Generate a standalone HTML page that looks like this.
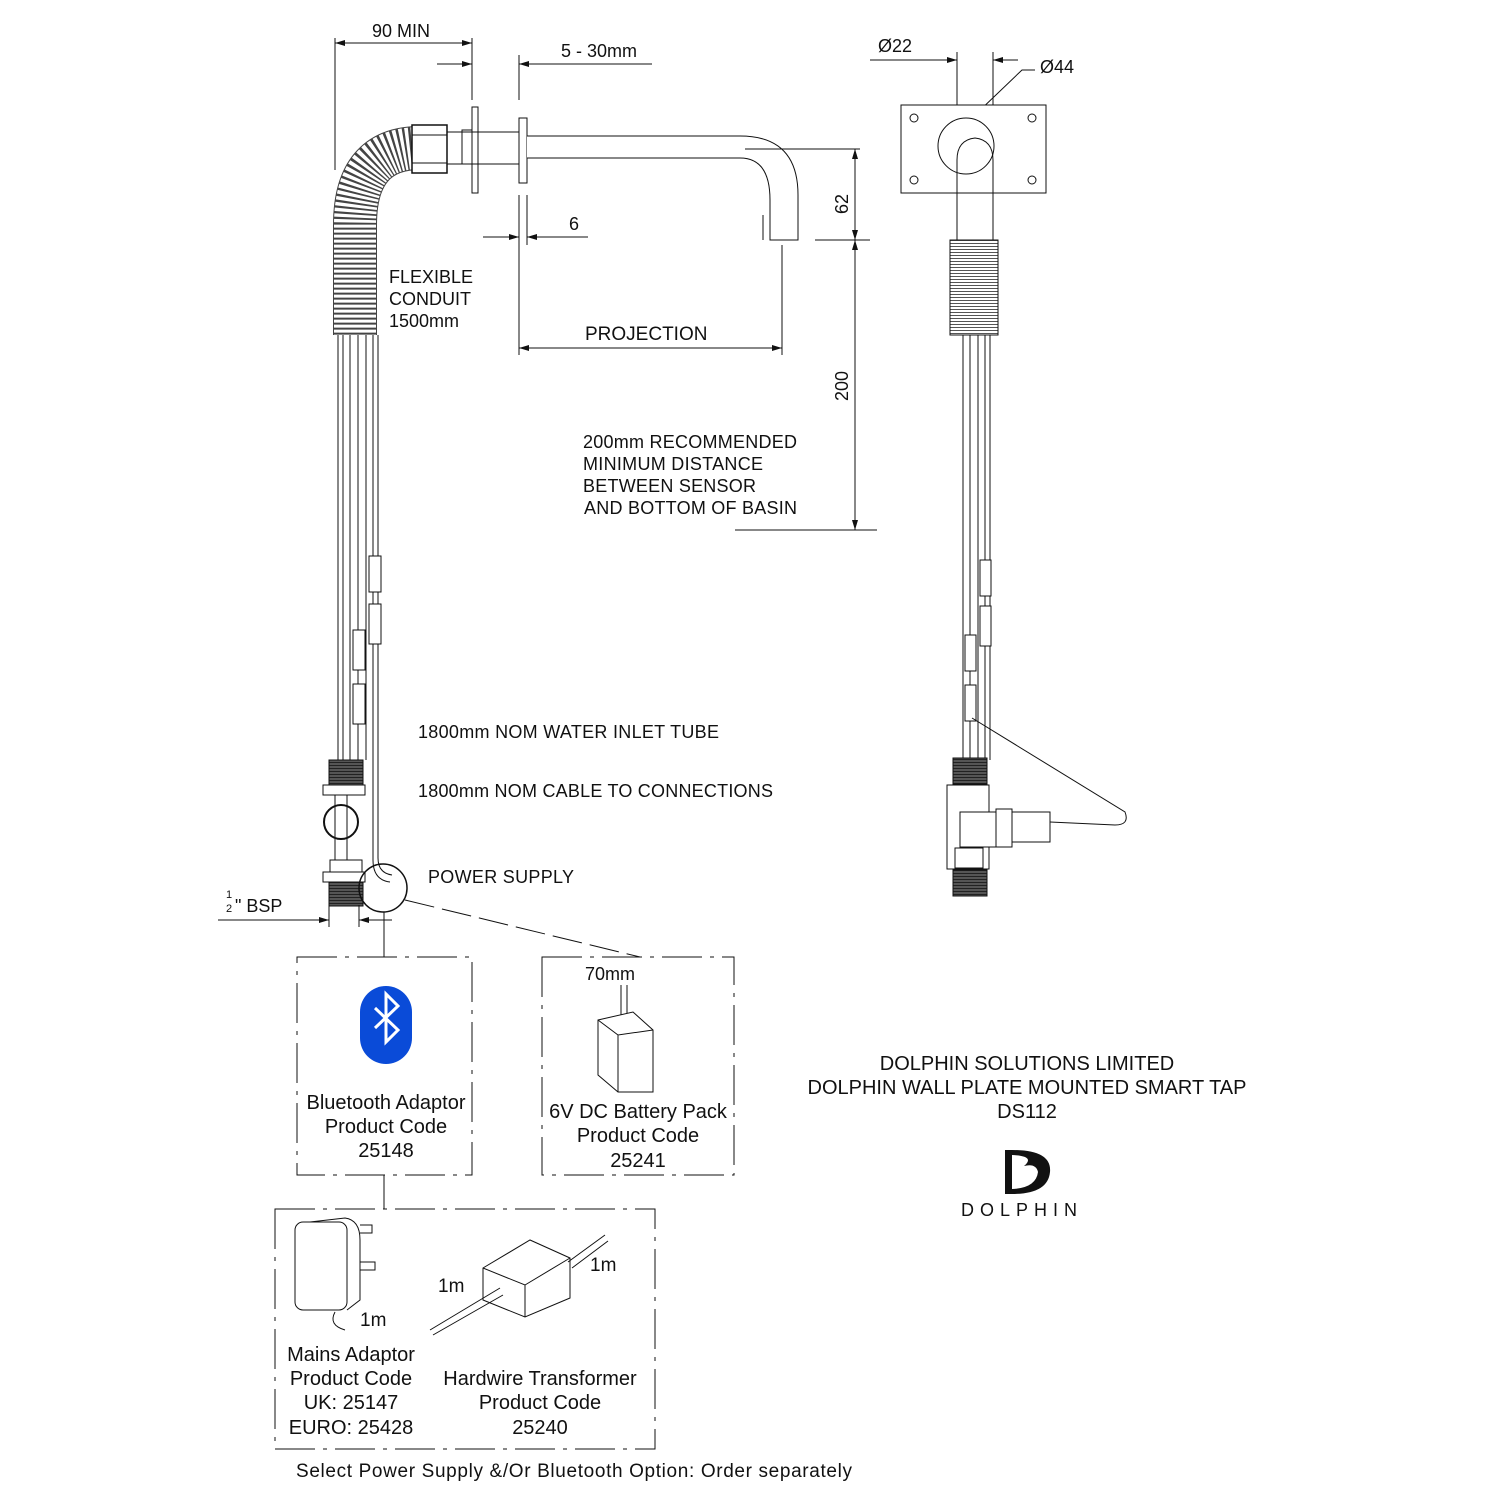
<!DOCTYPE html>
<html><head><meta charset="utf-8"><style>
html,body{margin:0;padding:0;background:#fff;}
svg{display:block;}
text{font-family:"Liberation Sans",Arial,sans-serif;fill:#111;}
</style></head><body>
<svg width="1500" height="1500" viewBox="0 0 1500 1500" xmlns="http://www.w3.org/2000/svg">
<defs>
<marker id="ar" viewBox="0 0 10 6" refX="10" refY="3" markerWidth="14" markerHeight="6" orient="auto-start-reverse" markerUnits="userSpaceOnUse"><path d="M0,0 L10,3 L0,6 Z" fill="#111"/></marker>
<pattern id="thr" width="4" height="3" patternUnits="userSpaceOnUse"><rect width="4" height="3" fill="#555"/><rect width="4" height="1" fill="#222"/></pattern>
<pattern id="thr2" width="4" height="3" patternUnits="userSpaceOnUse"><rect width="4" height="3" fill="#fff"/><rect width="4" height="1" fill="#555"/></pattern>
</defs>
<g stroke="#111" fill="none" stroke-width="1">
<!-- 90 MIN -->
<line x1="335" y1="38" x2="335" y2="170"/>
<line x1="472" y1="38" x2="472" y2="100"/>
<line x1="335" y1="43" x2="472" y2="43" marker-start="url(#ar)" marker-end="url(#ar)"/>
<!-- 5-30 -->
<line x1="519" y1="55" x2="519" y2="100"/>
<line x1="437" y1="64" x2="472" y2="64" marker-end="url(#ar)"/>
<line x1="519" y1="64" x2="652" y2="64"/>
<line x1="535" y1="64" x2="519" y2="64" marker-end="url(#ar)"/>
<!-- plate & flange -->
<rect x="472" y="107" width="6" height="86" fill="#fff"/>
<rect x="519" y="118" width="8" height="65" fill="#fff"/>
<rect x="462" y="130" width="10" height="34" fill="#fff"/>
<line x1="445" y1="132" x2="519" y2="132"/><line x1="445" y1="164" x2="519" y2="164"/>
<!-- spout -->
<path d="M527,136 L740,136 Q798,136 798,195 L798,240 L770,240 L770,200 Q770,158 740,158 L527,158" fill="#fff"/>
<line x1="763" y1="215" x2="763" y2="240"/>
<line x1="745" y1="149" x2="860" y2="149"/>
<!-- 62 / 200 -->
<line x1="855" y1="149" x2="855" y2="240" marker-start="url(#ar)" marker-end="url(#ar)"/>
<line x1="815" y1="240" x2="870" y2="240"/>
<line x1="855" y1="240" x2="855" y2="530" marker-start="url(#ar)" marker-end="url(#ar)"/>
<line x1="735" y1="530" x2="877" y2="530"/>
<!-- 6 -->
<line x1="519" y1="195" x2="519" y2="355"/>
<line x1="527" y1="195" x2="527" y2="245"/>
<line x1="483" y1="237" x2="519" y2="237" marker-end="url(#ar)"/>
<line x1="588" y1="237" x2="527" y2="237" marker-end="url(#ar)"/>
<!-- projection -->
<line x1="782" y1="245" x2="782" y2="355"/>
<line x1="519" y1="348" x2="782" y2="348" marker-start="url(#ar)" marker-end="url(#ar)"/>
<!-- conduit -->
<path d="M420,148 Q355,148 355,225 L355,335" stroke="#444" stroke-width="44"/>
<path d="M420,148 Q355,148 355,225 L355,335" stroke="#fff" stroke-width="42" stroke-dasharray="3 2"/>
<rect x="412" y="125" width="35" height="48" fill="#fff" stroke-width="1.5"/>
<line x1="412" y1="135" x2="447" y2="135"/><line x1="412" y1="163" x2="447" y2="163"/>
<!-- tubes -->
<path d="M338,335 L338,760 M343,335 L343,760 M350,335 L350,760 M358,335 L358,760 M366,335 L366,760"/>
<path d="M373,335 L373,860 Q373,880 390,882 M378,335 L378,858 Q378,873 392,875"/>
<rect x="369" y="556" width="12" height="36" fill="#fff"/><rect x="369" y="604" width="12" height="40" fill="#fff"/>
<rect x="353" y="630" width="12" height="40" fill="#fff"/><rect x="353" y="684" width="12" height="40" fill="#fff"/>
<rect x="329" y="760" width="34" height="25" fill="url(#thr)"/>
<rect x="323" y="785" width="42" height="10" fill="#fff"/>
<circle cx="341" cy="822" r="17" stroke-width="2"/>
<path d="M335,795 L335,860 M347,795 L347,860"/>
<rect x="330" y="860" width="32" height="12" fill="#fff"/>
<rect x="323" y="872" width="42" height="10" fill="#fff"/>
<rect x="329" y="882" width="34" height="24" fill="url(#thr)"/>
<circle cx="383" cy="888" r="24" stroke-width="1.5"/>
<!-- BSP dim -->
<line x1="329" y1="905" x2="329" y2="927"/><line x1="359" y1="905" x2="359" y2="927"/>
<line x1="218" y1="920" x2="329" y2="920" marker-end="url(#ar)"/>
<line x1="392" y1="920" x2="359" y2="920" marker-end="url(#ar)"/>
<line x1="384" y1="912" x2="384" y2="957"/>
<line x1="405" y1="900" x2="640" y2="957" stroke-dasharray="30 8"/>
<!-- right view -->
<line x1="870" y1="60" x2="957" y2="60" marker-end="url(#ar)"/>
<line x1="1018" y1="60" x2="993" y2="60" marker-end="url(#ar)"/>
<line x1="957" y1="52" x2="957" y2="130"/><line x1="993" y1="52" x2="993" y2="130"/>
<path d="M1035,70 L1022,70 L975,115" marker-end="url(#ar)"/>
<rect x="901" y="105" width="145" height="88" fill="#fff"/>
<circle cx="914" cy="118" r="4"/><circle cx="1032" cy="118" r="4"/><circle cx="914" cy="180" r="4"/><circle cx="1032" cy="180" r="4"/>
<circle cx="966" cy="146" r="28"/>
<path d="M957,240 L957,160 Q957,140 975,138 Q993,140 993,160 L993,240"/>
<rect x="950" y="240" width="48" height="95" fill="url(#thr2)"/>
<path d="M963,335 L963,760 M970,335 L970,760 M978,335 L978,760 M985,335 L985,760 M990,335 L990,760"/>
<rect x="980" y="560" width="11" height="36" fill="#fff"/><rect x="980" y="606" width="11" height="40" fill="#fff"/>
<rect x="965" y="635" width="11" height="36" fill="#fff"/><rect x="965" y="685" width="11" height="36" fill="#fff"/>
<path d="M972,718 L1125,812 Q1130,825 1115,825 L1050,822"/>
<rect x="953" y="758" width="34" height="26" fill="url(#thr)"/>
<rect x="947" y="785" width="42" height="84" fill="#fff"/>
<rect x="960" y="812" width="36" height="35" fill="#fff"/>
<rect x="996" y="809" width="16" height="38" fill="#fff"/>
<rect x="1012" y="812" width="38" height="30" fill="#fff"/>
<rect x="955" y="848" width="28" height="20" fill="#fff"/>
<rect x="953" y="870" width="34" height="26" fill="url(#thr)"/>
<!-- boxes -->
<g stroke-dasharray="40 8 4 8">
<rect x="297" y="957" width="175" height="218"/>
<rect x="542" y="957" width="192" height="218"/>
<rect x="275" y="1209" width="380" height="240"/>
</g>
<line x1="384" y1="1175" x2="384" y2="1209"/>
<!-- battery -->
<path d="M621,985 L621,1018 M627,985 L627,1018"/>
<path d="M598,1020 L633,1012 L653,1030 L653,1092 L618,1092 L598,1075 Z" fill="#fff"/>
<path d="M598,1020 L618,1035 L653,1030 M618,1035 L618,1092"/>
<!-- adaptor -->
<rect x="295" y="1222" width="52" height="88" rx="8" fill="#fff"/>
<path d="M310,1222 L345,1218 Q360,1220 360,1240 L360,1300 L347,1310"/>
<path d="M360,1225 L372,1225 L372,1233 L360,1233 M360,1262 L375,1262 L375,1270 L360,1270"/>
<path d="M335,1312 Q328,1325 345,1330"/>
<!-- transformer -->
<path d="M483,1268 L530,1240 L570,1258 L570,1298 L525,1317 L483,1300 Z" fill="#fff"/>
<path d="M483,1268 L525,1285 L570,1258 M525,1285 L525,1317"/>
<path d="M568,1262 L605,1235 M572,1268 L608,1241"/>
<path d="M500,1288 L430,1330 M503,1295 L433,1335"/>
</g>
<!-- Bluetooth icon -->
<rect x="360" y="986" width="52" height="78" rx="26" fill="#0a4bd8"/>
<path d="M375,1008 L398,1030 L386,1042 L386,994 L398,1006 L375,1028" stroke="#fff" stroke-width="3" fill="none"/>
<!-- text -->
<g font-size="18">
<text x="372" y="37">90 MIN</text>
<text x="561" y="57">5 - 30mm</text>
<text x="878" y="52">Ø22</text>
<text x="1040" y="73">Ø44</text>
<text x="569" y="230">6</text>
<text x="389" y="283">FLEXIBLE</text>
<text x="389" y="305">CONDUIT</text>
<text x="389" y="327">1500mm</text>
<text x="585" y="340" font-size="19">PROJECTION</text>
<text transform="translate(848,204) rotate(-90)" text-anchor="middle">62</text>
<text transform="translate(848,386) rotate(-90)" text-anchor="middle">200</text>
<text x="583" y="448" textLength="214">200mm RECOMMENDED</text>
<text x="583" y="470" textLength="180">MINIMUM DISTANCE</text>
<text x="583" y="492" textLength="173">BETWEEN SENSOR</text>
<text x="584" y="514" textLength="213">AND BOTTOM OF BASIN</text>
<text x="418" y="738" textLength="301">1800mm NOM WATER INLET TUBE</text>
<text x="418" y="797" textLength="355">1800mm NOM CABLE TO CONNECTIONS</text>
<text x="428" y="883" textLength="146">POWER SUPPLY</text>
<text x="226" y="898" font-size="11">1</text><text x="226" y="912" font-size="11">2</text>
<text x="235" y="912">" BSP</text>
<text x="585" y="980">70mm</text>
<g font-size="20" text-anchor="middle">
<text x="386" y="1109">Bluetooth Adaptor</text>
<text x="386" y="1133">Product Code</text>
<text x="386" y="1157">25148</text>
<text x="638" y="1118">6V DC Battery Pack</text>
<text x="638" y="1142">Product Code</text>
<text x="638" y="1167">25241</text>
<text x="351" y="1361">Mains Adaptor</text>
<text x="351" y="1385">Product Code</text>
<text x="351" y="1409">UK: 25147</text>
<text x="351" y="1434">EURO: 25428</text>
<text x="540" y="1385">Hardwire Transformer</text>
<text x="540" y="1409">Product Code</text>
<text x="540" y="1434">25240</text>
<text x="1027" y="1070">DOLPHIN SOLUTIONS LIMITED</text>
<text x="1027" y="1094">DOLPHIN WALL PLATE MOUNTED SMART TAP</text>
<text x="1027" y="1118">DS112</text>
</g>
<text x="360" y="1326" font-size="19">1m</text>
<text x="438" y="1292" font-size="19">1m</text>
<text x="590" y="1271" font-size="19">1m</text>
<text x="296" y="1477" font-size="19" textLength="556">Select Power Supply &amp;/Or Bluetooth Option: Order separately</text>
<text x="1022" y="1216" text-anchor="middle" font-size="18" letter-spacing="6">DOLPHIN</text>
</g>
<!-- logo D -->
<path d="M1005,1150 L1012,1150 L1012,1194 L1005,1194 Z" fill="#111"/>
<path d="M1012,1150 Q1052,1150 1050,1172 Q1048,1194 1012,1194 L1012,1189 Q1036,1188 1038,1172 Q1036,1163 1024,1166 Q1036,1156 1012,1155 Z" fill="#111"/>
</svg>
</body></html>
